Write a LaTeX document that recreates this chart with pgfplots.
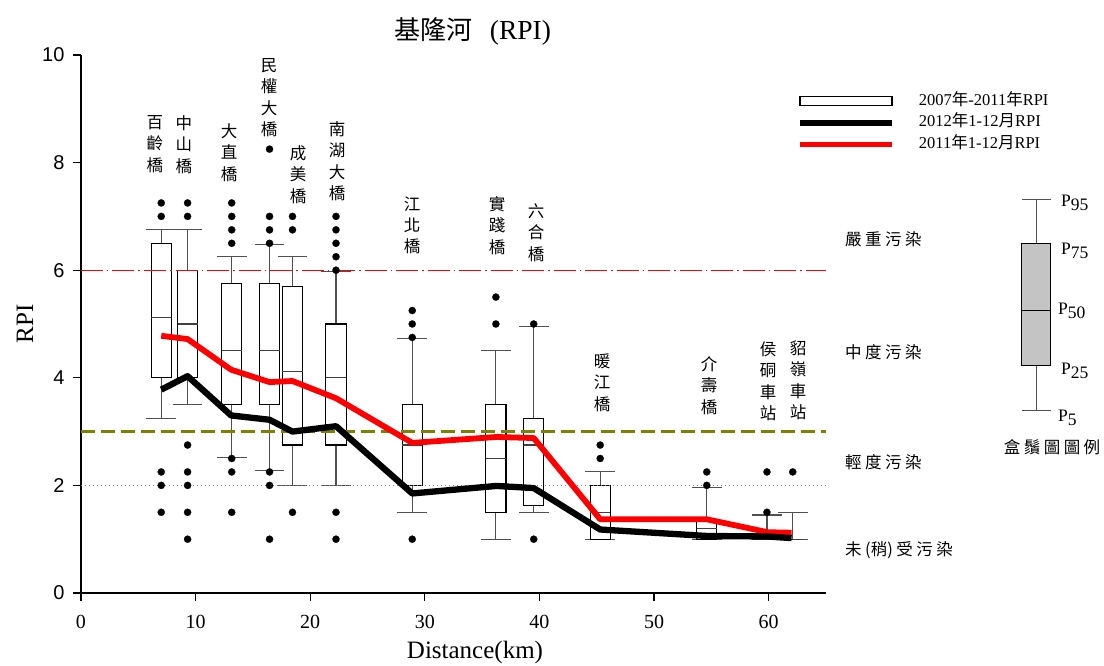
\documentclass[border=0pt]{standalone}
\usepackage{pgfplots}
\pgfplotsset{compat=1.18}
\usepgfplotslibrary{statistics}
\usepackage{fontspec}
\setmainfont{Liberation Serif}
\newfontfamily\cjk{Noto Sans CJK TC}
\newfontfamily\arial{Liberation Sans}
\definecolor{olivec}{HTML}{808000}
\definecolor{whisk}{HTML}{505050}
\definecolor{lgray}{HTML}{C4C4C4}
\newcommand{\ks}{\kern3.5pt}
\pgfplotsset{
  rpibox/.style={forget plot, solid, draw=black, line width=1.1pt, fill=white,
    mark=*, mark size=3.6pt, mark options={fill=black,draw=black,line width=0.2pt},
    boxplot/box extend=1.76, boxplot/whisker extend=2.6,
    boxplot/every whisker/.style={draw=whisk},
    boxplot/every median/.style={draw=black!75}},
}
\begin{document}
\begin{tikzpicture}
\path[use as bounding box] (-81pt,-73pt) rectangle (1023pt,593pt);
\begin{axis}[at={(0pt,0pt)}, anchor=south west, scale only axis,
  width=745pt, height=538pt,
  xmin=0, xmax=65, ymin=0, ymax=10, clip=false,
  axis lines*=left, axis line style={line width=1.3pt},
  tick style={line width=1.2pt, black}, tick align=outside, major tick length=8pt,
  xtick={0,10,...,60}, ytick={0,2,...,10},
  /pgf/number format/assume math mode=true,
  x tick label style={font=\fontsize{20}{20}\selectfont, yshift=-11pt},
  y tick label style={font=\arial\fontsize{20}{20}\selectfont, xshift=-5pt},
  boxplot/draw direction=y,
  legend style={at={(axis description cs:0.9607,0.9293)}, anchor=north west,
    draw=none, fill=none, inner sep=0pt, row sep=6.2pt,
    font=\fontsize{16.5}{18}\selectfont,
    nodes={inner sep=0pt, text height=12pt, text depth=3.5pt},
    cells={anchor=west},
    /tikz/every odd column/.append style={column sep=24pt}},
]
\addlegendimage{legend image code/.code={\draw[black,line width=1.2pt,fill=white] (0pt,-4.3pt) rectangle (92pt,4.3pt);}}
\addlegendentry{2007{\cjk 年}-2011{\cjk 年}RPI}
\addlegendimage{legend image code/.code={\draw[black,line width=6pt] (0pt,0pt) -- (92pt,0pt);}}
\addlegendentry{2012{\cjk 年}1-12{\cjk 月}RPI}
\addlegendimage{legend image code/.code={\draw[red,line width=5.5pt] (0pt,0pt) -- (92pt,0pt);}}
\addlegendentry{2011{\cjk 年}1-12{\cjk 月}RPI}

% boxes 2007-2011
\addplot[rpibox, boxplot prepared={draw position=7.0, lower whisker=3.25, lower quartile=4.0, median=5.12, upper quartile=6.5, upper whisker=6.75}]
  table[row sep=\\, y index=0] {7.25\\7.0\\2.25\\2.0\\1.5\\};
\addplot[rpibox, boxplot prepared={draw position=9.3, lower whisker=3.5, lower quartile=4.0, median=5.0, upper quartile=6.0, upper whisker=6.75}]
  table[row sep=\\, y index=0] {7.25\\7.0\\2.75\\2.25\\2.0\\1.5\\1.0\\};
\addplot[rpibox, boxplot prepared={draw position=13.15, lower whisker=2.52, lower quartile=3.5, median=4.5, upper quartile=5.75, upper whisker=6.25}]
  table[row sep=\\, y index=0] {7.25\\7.0\\6.75\\6.5\\2.5\\2.25\\1.5\\};
\addplot[rpibox, boxplot prepared={draw position=16.45, lower whisker=2.27, lower quartile=3.5, median=4.5, upper quartile=5.75, upper whisker=6.47}]
  table[row sep=\\, y index=0] {8.25\\7.0\\6.75\\6.5\\2.25\\2.0\\1.0\\};
\addplot[rpibox, boxplot prepared={draw position=18.45, lower whisker=2.0, lower quartile=2.75, median=4.12, upper quartile=5.69, upper whisker=6.25}]
  table[row sep=\\, y index=0] {7.0\\6.75\\1.5\\};
\addplot[rpibox, boxplot prepared={draw position=22.25, lower whisker=2.0, lower quartile=2.75, median=4.0, upper quartile=5.0, upper whisker=5.98}]
  table[row sep=\\, y index=0] {7.0\\6.75\\6.5\\6.25\\6.0\\1.5\\1.0\\};
\addplot[rpibox, boxplot prepared={draw position=28.9, lower whisker=1.5, lower quartile=2.0, median=2.75, upper quartile=3.5, upper whisker=4.73}]
  table[row sep=\\, y index=0] {5.25\\5.0\\4.75\\1.0\\};
\addplot[rpibox, boxplot prepared={draw position=36.2, lower whisker=1.0, lower quartile=1.5, median=2.5, upper quartile=3.5, upper whisker=4.5}]
  table[row sep=\\, y index=0] {5.5\\5.0\\};
\addplot[rpibox, boxplot prepared={draw position=39.5, lower whisker=1.5, lower quartile=1.63, median=2.75, upper quartile=3.25, upper whisker=4.95}]
  table[row sep=\\, y index=0] {5.0\\1.0\\};
\addplot[rpibox, boxplot prepared={draw position=45.3, lower whisker=1.0, lower quartile=1.0, median=1.5, upper quartile=2.0, upper whisker=2.25}]
  table[row sep=\\, y index=0] {2.75\\2.5\\};
\addplot[rpibox, boxplot prepared={draw position=54.6, lower whisker=1.0, lower quartile=1.0, median=1.2, upper quartile=1.36, upper whisker=1.96}]
  table[row sep=\\, y index=0] {2.25\\2.0\\};
\addplot[rpibox, boxplot prepared={draw position=59.85, lower whisker=1.0, lower quartile=1.0, median=1.0, upper quartile=1.1, upper whisker=1.45}]
  table[row sep=\\, y index=0] {2.25\\1.5\\};
\addplot[rpibox, boxplot prepared={draw position=62.1, lower whisker=1.0, lower quartile=1.0, median=1.0, upper quartile=1.0, upper whisker=1.5}]
  table[row sep=\\, y index=0] {2.25\\};

% box legend (key)
\addplot[forget plot, solid, draw=black, line width=1.1pt, fill=lgray,
  boxplot/box extend=2.52, boxplot/whisker extend=2.52,
  boxplot/every whisker/.style={draw=whisk},
  boxplot prepared={draw position=83.35, lower whisker=3.4, lower quartile=4.23, median=5.25, upper quartile=6.49, upper whisker=7.32}]
  coordinates {};

% thresholds
\addplot[forget plot, red, line width=1.3pt, dash pattern=on 22pt off 4pt on 1.5pt off 4pt] coordinates {(0,6) (65,6)};
\addplot[forget plot, color=olivec, line width=2.2pt, dash pattern=on 14pt off 6pt] coordinates {(0,3) (65,3)};
\addplot[forget plot, gray, line width=1pt, dash pattern=on 1pt off 3pt] coordinates {(0,2) (65,2)};

% 2011
\addplot[forget plot, red, line width=5.8pt, line join=round] coordinates {
(7.0,4.78) (9.3,4.72) (13.1,4.15) (16.45,3.92) (18.45,3.94) (22.25,3.62) (28.9,2.79) (36.25,2.9) (39.5,2.88) (45.3,1.37) (54.6,1.37) (59.9,1.13) (62.0,1.12)};
% 2012
\addplot[forget plot, black, line width=6.3pt, line join=round] coordinates {
(7.0,3.78) (9.3,4.03) (13.1,3.3) (16.45,3.22) (18.45,3.0) (22.25,3.1) (28.9,1.85) (36.25,1.99) (39.5,1.95) (45.3,1.18) (54.6,1.06) (59.9,1.05) (62.0,1.02)};
\end{axis}

\begin{scope}[x=1pt, y=-1pt, shift={(-81pt,593pt)}]
% title and labels
\node[anchor=center, inner sep=0pt] at (473,31) {{\cjk\fontsize{26}{30}\selectfont 基隆河}\hspace{17pt}{\fontsize{27.5}{30}\selectfont (RPI)}};
\node[anchor=base, inner sep=0pt, font=\fontsize{25}{30}\selectfont] at (475,659) {Distance(km)};
\node[anchor=center, inner sep=0pt, rotate=90, font=\fontsize{25}{30}\selectfont] at (25,324) {RPI};
% station labels
\tikzset{vlab/.style={anchor=north, inner sep=0pt, align=center, font=\cjk\fontsize{16.5}{21.3}\selectfont}}
\node[vlab] at (155,115.5) {百\\齡\\橋};
\node[vlab] at (184,115.5) {中\\山\\橋};
\node[vlab] at (229,123.5) {大\\直\\橋};
\node[vlab] at (269,58.5) {民\\權\\大\\橋};
\node[vlab] at (298,145.5) {成\\美\\橋};
\node[vlab] at (337,121.5) {南\\湖\\大\\橋};
\node[vlab] at (412,196.5) {江\\北\\橋};
\node[vlab] at (497,196.5) {實\\踐\\橋};
\node[vlab] at (536,203.5) {六\\合\\橋};
\node[vlab] at (602,353.5) {暖\\江\\橋};
\node[vlab] at (709,356.5) {介\\壽\\橋};
\node[vlab] at (768,341.5) {侯\\硐\\車\\站};
\node[vlab] at (798,340.5) {貂\\嶺\\車\\站};
% pollution levels
\tikzset{plab/.style={anchor=west, inner sep=0pt, font=\cjk\fontsize{16.5}{20}\selectfont}}
\node[plab] at (845,239.3) {嚴\ks 重\ks 污\ks 染};
\node[plab] at (845,351.7) {中\ks 度\ks 污\ks 染};
\node[plab] at (845,462.3) {輕\ks 度\ks 污\ks 染};
\node[plab] at (845,550) {未\ks(稍)\ks 受\ks 污\ks 染};
% box key labels
\tikzset{klab/.style={anchor=west, inner sep=0pt, font=\fontsize{17.5}{20}\selectfont}}
\node[klab] at (1061,203) {P\raisebox{-4pt}{95}};
\node[klab] at (1061,251) {P\raisebox{-4pt}{75}};
\node[klab] at (1058,311) {P\raisebox{-4pt}{50}};
\node[klab] at (1061,370.5) {P\raisebox{-4pt}{25}};
\node[klab] at (1058,418) {P\raisebox{-4pt}{5}};
\node[anchor=center, inner sep=0pt, font=\cjk\fontsize{16.5}{20}\selectfont] at (1052,447) {盒\ks 鬚\ks 圖\ks 圖\ks 例};
\end{scope}
\end{tikzpicture}
\end{document}
